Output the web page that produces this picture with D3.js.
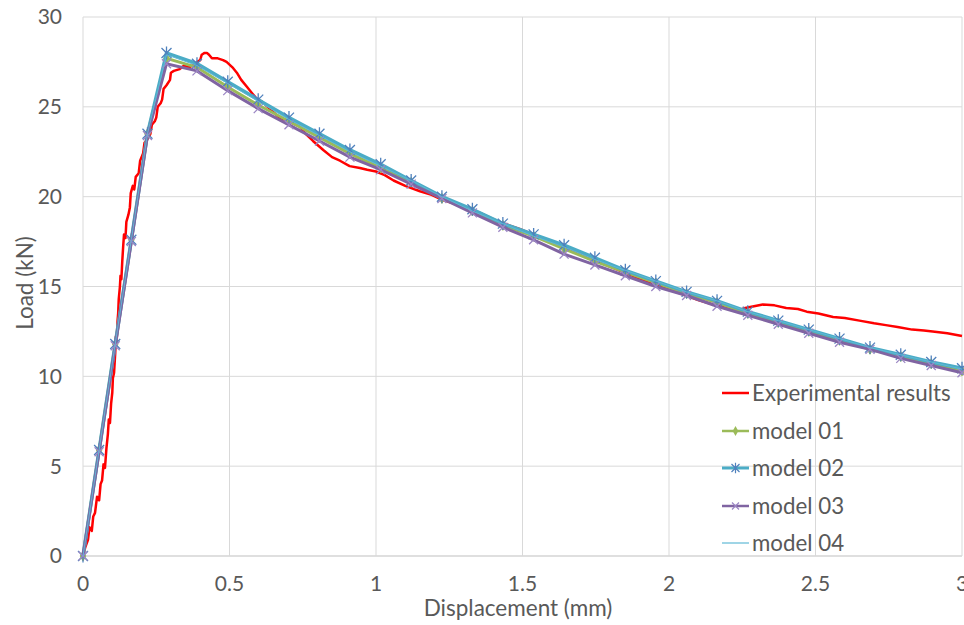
<!DOCTYPE html>
<html><head><meta charset="utf-8">
<script src="https://cdn.jsdelivr.net/npm/d3@7/dist/d3.min.js"></script>
<style>
html,body{margin:0;padding:0;background:#fff;}
text{font-family:Lato,"Open Sans",sans-serif;fill:#595959;}
</style></head>
<body><svg id="chart" width="964" height="625"></svg>
<script>
const xTicks = [0, 0.5, 1, 1.5, 2, 2.5, 3];
const xTickLabels = ["0", "0.5", "1", "1.5", "2", "2.5", "3"];
const yTicks = [0, 5, 10, 15, 20, 25, 30];
const yTickLabels = ["0", "5", "10", "15", "20", "25", "30"];
const seriesNames = ["Experimental results", "model 01", "model 02", "model 03", "model 04"];

const expX = [0,0.008,0.017,0.022,0.03,0.035,0.041,0.048,0.055,0.06,0.065,0.07,0.075,0.08,0.085,0.088,0.092,0.096,0.1,0.102,0.106,0.11,0.112,0.115,0.118,0.12,0.122,0.126,0.128,0.131,0.134,0.137,0.14,0.145,0.148,0.155,0.16,0.163,0.17,0.175,0.18,0.19,0.195,0.205,0.21,0.22,0.23,0.235,0.245,0.25,0.255,0.265,0.27,0.275,0.285,0.297,0.3,0.31,0.33,0.345,0.36,0.375,0.385,0.39,0.4,0.405,0.415,0.423,0.43,0.44,0.46,0.478,0.49,0.51,0.525,0.54,0.56,0.575,0.59,0.61,0.63,0.65,0.67,0.7,0.74,0.76,0.785,0.82,0.85,0.877,0.91,0.945,0.97,1.0,1.03,1.06,1.1,1.15,1.19,1.23,1.29,1.355,1.42,1.49,1.55,1.6,1.65,1.7,1.74,1.8,1.86,1.92,1.98,2.04,2.1,2.16,2.21,2.24,2.26,2.29,2.32,2.36,2.4,2.44,2.47,2.51,2.56,2.6,2.65,2.7,2.74,2.78,2.83,2.87,2.9,2.95,3.0];
const expY = [0,0.5,0.9,1.6,1.4,2.2,2.4,3.3,3.1,4.0,4.2,5.1,4.9,6.0,6.8,7.6,7.4,8.5,9.1,9.9,10.2,11.3,12.2,12.0,13.1,13.5,14.3,15.0,15.6,15.4,16.4,17.2,17.9,17.7,18.6,19.0,19.4,20.2,20.6,20.4,21.1,21.3,22.0,22.4,23.0,23.2,23.5,24.0,24.2,24.4,25.0,25.2,25.4,26.0,26.2,26.5,26.9,27.0,27.1,27.3,27.2,27.3,27.4,27.5,27.6,27.9,28.0,28.0,27.9,27.7,27.7,27.6,27.5,27.2,26.9,26.5,26.1,25.8,25.5,25.3,25.0,24.7,24.4,24.2,23.9,23.5,23.1,22.6,22.2,22.0,21.7,21.6,21.5,21.4,21.2,20.9,20.6,20.3,20.1,19.8,19.5,19.1,18.6,18.2,17.8,17.5,17.1,16.8,16.5,16.1,15.7,15.3,14.95,14.6,14.25,13.95,13.75,13.7,13.8,13.9,14.0,13.95,13.8,13.75,13.6,13.5,13.3,13.25,13.1,12.95,12.85,12.75,12.6,12.55,12.5,12.4,12.25];

const modelX = [0,0.055,0.11,0.165,0.22,0.285,0.389,0.494,0.598,0.703,0.807,0.911,1.016,1.12,1.225,1.329,1.433,1.538,1.642,1.747,1.851,1.955,2.06,2.164,2.269,2.373,2.477,2.582,2.686,2.791,2.895,3.0];
const model01 = [0,5.9,11.8,17.6,23.5,27.7,27.2,26.1,25.1,24.2,23.3,22.4,21.6,20.8,19.9,19.2,18.4,17.8,17.1,16.4,15.8,15.2,14.6,14.1,13.5,13.0,12.5,12.0,11.5,11.1,10.7,10.3];
const model02 = [0,5.9,11.8,17.6,23.5,28.0,27.4,26.4,25.4,24.4,23.5,22.6,21.8,20.9,20.0,19.3,18.5,17.9,17.3,16.6,15.9,15.3,14.7,14.2,13.6,13.1,12.6,12.1,11.6,11.2,10.8,10.45];
const model03 = [0,5.8,11.7,17.5,23.4,27.4,27.0,25.9,24.9,24.0,23.1,22.2,21.5,20.7,19.9,19.1,18.3,17.6,16.8,16.2,15.6,15.0,14.5,13.9,13.4,12.9,12.4,11.9,11.5,11.0,10.6,10.2];
const model04 = [0,5.9,11.8,17.6,23.5,27.9,27.3,26.3,25.3,24.3,23.4,22.5,21.7,20.9,20.0,19.2,18.5,17.8,17.2,16.5,15.9,15.3,14.7,14.2,13.6,13.1,12.6,12.1,11.6,11.2,10.8,10.4];

const svg = d3.select("#chart");
const L = 83, R = 962, T = 17, B = 556;
const x = d3.scaleLinear().domain([0, 3]).range([L, R]);
const y = d3.scaleLinear().domain([0, 30]).range([B, T]);

// gridlines
svg.append("g").selectAll("line").data(yTicks).join("line")
  .attr("x1", L).attr("x2", R).attr("y1", d => y(d)).attr("y2", d => y(d))
  .attr("stroke", d => d === 0 ? "#bfbfbf" : "#d9d9d9").attr("stroke-width", 1);
svg.append("g").selectAll("line").data(xTicks).join("line")
  .attr("y1", T).attr("y2", B).attr("x1", d => x(d)).attr("x2", d => x(d))
  .attr("stroke", "#d9d9d9").attr("stroke-width", 1);

// tick labels
svg.append("g").selectAll("text").data(yTicks).join("text")
  .attr("x", L - 21).attr("y", d => y(d)).attr("dy", "0.35em")
  .attr("text-anchor", "end").attr("font-size", 21).text((d, i) => yTickLabels[i]);
svg.append("g").selectAll("text").data(xTicks).join("text")
  .attr("x", d => x(d)).attr("y", 591)
  .attr("text-anchor", "middle").attr("font-size", 21).text((d, i) => xTickLabels[i]);

// axis titles
svg.append("text").attr("x", 518).attr("y", 616).attr("text-anchor", "middle")
  .attr("font-size", 22.5).text("Displacement (mm)");
svg.append("text").attr("transform", `translate(33,283) rotate(-90)`)
  .attr("text-anchor", "middle").attr("font-size", 22.5).text("Load (kN)");

const line = d3.line().x(d => x(d[0])).y(d => y(d[1]));
const zip = (xs, ys) => xs.map((v, i) => [v, ys[i]]);

const expData = zip(expX, expY);
const m1 = zip(modelX, model01), m2 = zip(modelX, model02), m3 = zip(modelX, model03), m4 = zip(modelX, model04);

svg.append("path").datum(expData).attr("d", line).attr("fill", "none")
  .attr("stroke", "#ff0000").attr("stroke-width", 2.5).attr("stroke-linejoin", "round");

function starPath(cx, cy, r) {
  return `M${cx - r},${cy - r}L${cx + r},${cy + r}M${cx - r},${cy + r}L${cx + r},${cy - r}M${cx},${cy - r * 1.3}L${cx},${cy + r * 1.3}`;
}
function xPath(cx, cy, r) {
  return `M${cx - r},${cy - r}L${cx + r},${cy + r}M${cx - r},${cy + r}L${cx + r},${cy - r}`;
}
const diamond = d3.symbol().type(d3.symbolDiamond).size(28);

// model 01
svg.append("path").datum(m1).attr("d", line).attr("fill", "none").attr("stroke", "#9bbb59").attr("stroke-width", 3);
svg.append("g").selectAll("path").data(m1).join("path").attr("d", diamond)
  .attr("transform", d => `translate(${x(d[0])},${y(d[1])})`).attr("fill", "#9bbb59").attr("stroke", "#9bbb59");
// model 02
svg.append("path").datum(m2).attr("d", line).attr("fill", "none").attr("stroke", "#4bacc6").attr("stroke-width", 3.5);
svg.append("g").selectAll("path").data(m2).join("path").attr("d", d => starPath(x(d[0]), y(d[1]), 5))
  .attr("stroke", "#4f81bd").attr("stroke-width", 1.3).attr("fill", "none");
// model 03
svg.append("path").datum(m3).attr("d", line).attr("fill", "none").attr("stroke", "#8064a2").attr("stroke-width", 3);
svg.append("g").selectAll("path").data(m3).join("path").attr("d", d => xPath(x(d[0]), y(d[1]), 4.5))
  .attr("stroke", "#9b86c4").attr("stroke-width", 1.3).attr("fill", "none");
// model 04
svg.append("path").datum(m4).attr("d", line).attr("fill", "none").attr("stroke", "#5fb9d6").attr("stroke-width", 1);

// legend
const leg = svg.append("g");
const legY = [393, 431, 468, 506, 543];
seriesNames.forEach((name, i) => {
  const yy = legY[i];
  const stroke = ["#ff0000", "#9bbb59", "#4bacc6", "#8064a2", "#5fb9d6"][i];
  const sw = [2.5, 2.5, 3, 2.5, 1.2][i];
  leg.append("line").attr("x1", 722).attr("x2", 749).attr("y1", yy).attr("y2", yy)
    .attr("stroke", stroke).attr("stroke-width", sw);
  if (i === 1) leg.append("path").attr("d", diamond).attr("transform", `translate(735.5,${yy})`).attr("fill", "#9bbb59");
  if (i === 2) leg.append("path").attr("d", starPath(735.5, yy, 4)).attr("stroke", "#4f81bd").attr("stroke-width", 1.2);
  if (i === 3) leg.append("path").attr("d", xPath(735.5, yy, 3.5)).attr("stroke", "#9b86c4").attr("stroke-width", 1.2);
  leg.append("text").attr("x", 752).attr("y", yy).attr("dy", "0.35em").attr("font-size", 22.3).text(name);
});
</script></body></html>
